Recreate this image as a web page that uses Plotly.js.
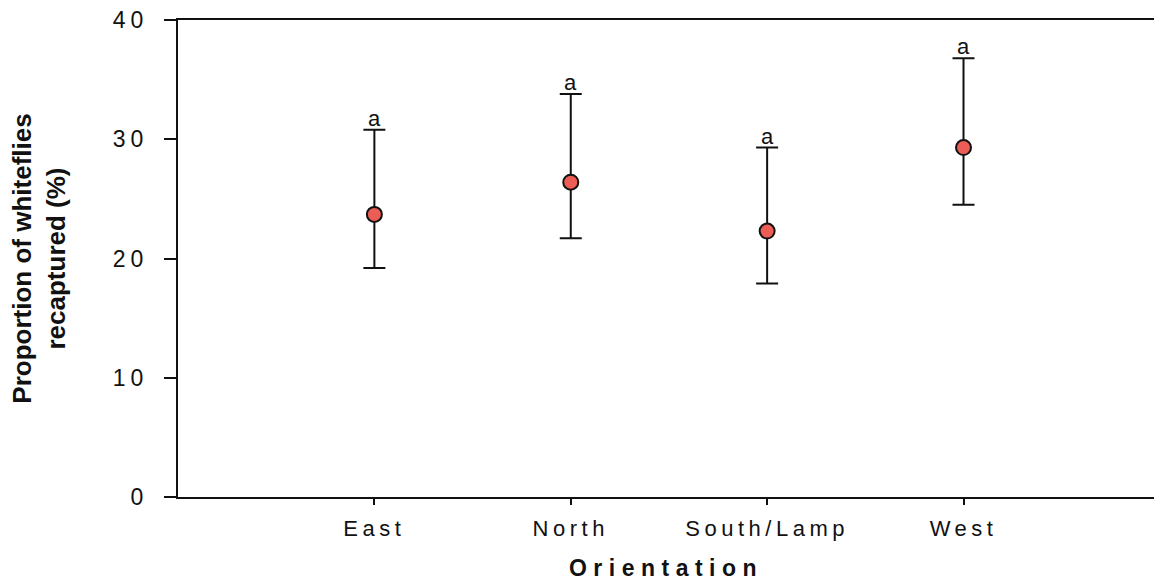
<!DOCTYPE html>
<html>
<head>
<meta charset="utf-8">
<script src="https://cdn.plot.ly/plotly-3.0.1.min.js"></script>
<style>
html,body{margin:0;padding:0;background:#fff;overflow:hidden;}
#chart{width:1154px;height:582px;}
.xtick text{letter-spacing:4.5px;}
.ytick text{letter-spacing:5px;}
.g-xtitle text{letter-spacing:6.5px;}
</style>
</head>
<body>
<div id="chart"></div>
<script>
const categories = ["East", "North", "South/Lamp", "West"];
const means = [23.7, 26.4, 22.3, 29.3];
const upperLimits = [30.8, 33.8, 29.3, 36.8];
const lowerLimits = [19.2, 21.7, 17.9, 24.5];
const groupLetters = ["a", "a", "a", "a"];
const yTickValues = [0, 10, 20, 30, 40];

const errPlus = means.map((m, i) => upperLimits[i] - m);
const errMinus = means.map((m, i) => m - lowerLimits[i]);

const trace = {
  type: "scatter",
  mode: "markers",
  x: categories,
  y: means,
  marker: {color: "#ec5d55", size: 15, line: {color: "#111", width: 2}},
  error_y: {
    type: "data", symmetric: false,
    array: errPlus, arrayminus: errMinus,
    color: "#111", thickness: 2, width: 11
  },
  showlegend: false,
  hoverinfo: "x+y"
};

const annotations = categories.map((c, i) => ({
  x: c, y: upperLimits[i], xref: "x", yref: "y",
  text: groupLetters[i], showarrow: false,
  yanchor: "bottom", yshift: -3,
  font: {family: "Liberation Sans, Arial, sans-serif", size: 22, color: "#111"}
}));

const layout = {
  width: 1154, height: 582,
  margin: {l: 178, r: 0, t: 20, b: 85},
  paper_bgcolor: "#fff", plot_bgcolor: "#fff",
  font: {family: "Liberation Sans, Arial, sans-serif", color: "#111"},
  xaxis: {
    type: "category",
    range: [-1.0, 3.97],
    showline: true, linecolor: "#111", linewidth: 2,
    mirror: true,
    ticks: "outside", ticklen: 6, tickwidth: 2, tickcolor: "#111",
    showgrid: false, zeroline: false,
    tickfont: {size: 22, color: "#111"},
    ticklabelstandoff: 5,
    title: {text: "Orientation", font: {size: 23, color: "#111", weight: "bold"}, standoff: 19}
  },
  yaxis: {
    range: [0, 40],
    tickvals: yTickValues,
    showline: true, linecolor: "#111", linewidth: 2,
    ticks: "outside", ticklen: 12, tickwidth: 2, tickcolor: "#111",
    showgrid: false, zeroline: false,
    tickfont: {size: 23, color: "#111"},
    ticklabelstandoff: 11,
    title: {text: "<b>Proportion of whiteflies<br>recaptured (%)</b>", font: {size: 26, color: "#111"}, standoff: 40}
  },
  annotations: annotations
};

Plotly.newPlot("chart", [trace], layout, {displayModeBar: false, staticPlot: true});
</script>
</body>
</html>
